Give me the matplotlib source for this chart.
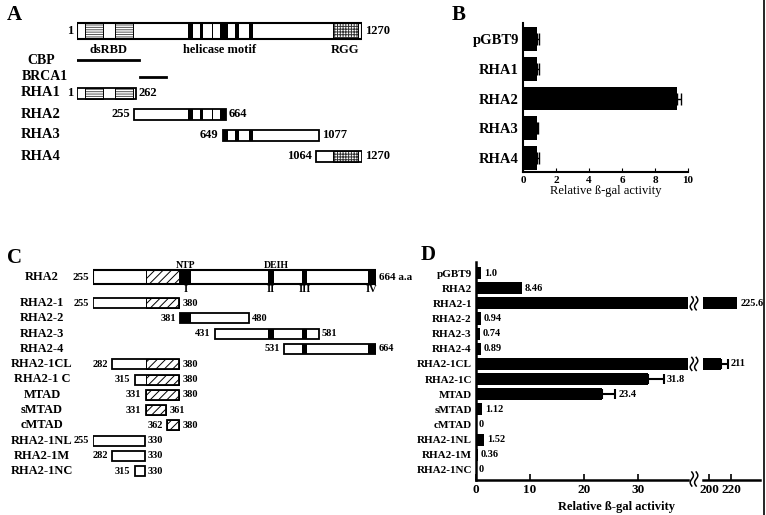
import matplotlib
matplotlib.use('Agg')
import matplotlib.pyplot as plt
from matplotlib.patches import Rectangle
import numpy as np

plt.rcParams['font.family'] = ['Liberation Serif', 'DejaVu Serif']
plt.rcParams['font.weight'] = 'bold'
plt.rcParams['hatch.linewidth'] = 0.7

W, H = 766, 515

# panel A: full length RHA (amino acids)
full_len = 1270
dsrbd = [(36, 117), (170, 250)]
helicase = [(495, 518), (549, 562), (603, 607), (638, 673), (705, 722), (767, 785)]
rgg = [(1141, 1252)]
cbp = (1, 277)
brca1 = (282, 397)
a_names = ['RHA1', 'RHA2', 'RHA3', 'RHA4']
a_start = [1, 255, 649, 1064]
a_end = [262, 664, 1077, 1270]

# panel B
b_names = ['pGBT9', 'RHA1', 'RHA2', 'RHA3', 'RHA4']
b_vals = [0.85, 0.85, 9.35, 0.87, 0.87]
b_err = [0.14, 0.1, 0.25, 0.05, 0.12]

# panel C: RHA2 fragment 255-664
c_range = (255, 664)
mtad = [(331, 380)]
motifs = [(381, 396), (508, 517), (557, 565), (652, 664)]
motif_names = ['I', 'II', 'III', 'IV']
c_names = ['RHA2-1', 'RHA2-2', 'RHA2-3', 'RHA2-4', 'RHA2-1CL', 'RHA2-1 C',
           'MTAD', 'sMTAD', 'cMTAD', 'RHA2-1NL', 'RHA2-1M', 'RHA2-1NC']
c_start = [255, 381, 431, 531, 282, 315, 331, 331, 362, 255, 282, 315]
c_end = [380, 480, 581, 664, 380, 380, 380, 361, 380, 330, 330, 330]

# panel D
d_names = ['pGBT9', 'RHA2', 'RHA2-1', 'RHA2-2', 'RHA2-3', 'RHA2-4', 'RHA2-1CL',
           'RHA2-1C', 'MTAD', 'sMTAD', 'cMTAD', 'RHA2-1NL', 'RHA2-1M', 'RHA2-1NC']
d_vals = [1.0, 8.46, 225.6, 0.94, 0.74, 0.89, 211, 31.8, 23.4, 1.12, 0, 1.52, 0.36, 0]
d_err = [0, 0, 0, 0, 0, 0, 6, 3, 2.4, 0, 0, 0, 0, 0]
d_text = ['1.0', '8.46', '225.6', '0.94', '0.74', '0.89', '211', '31.8', '23.4',
          '1.12', '0', '1.52', '0.36', '0']


fig = plt.figure(figsize=(W / 100, H / 100), dpi=100)


def px_axes(x0, y0, x1, y1):
    return fig.add_axes([x0 / W, 1 - y1 / H, (x1 - x0) / W, (y1 - y0) / H])


cv = px_axes(0, 0, W, H)
cv.set_xlim(0, W)
cv.set_ylim(H, 0)
cv.axis('off')


def feature(ax, s, e, yc, h, doms, style):
    for fs, fe in doms:
        a, b = max(fs, s), min(fe, e)
        if b <= a:
            continue
        if style == 'black':
            ax.add_patch(Rectangle((a, yc - h / 2), b - a, h, fc='black', lw=0, zorder=2))
        else:
            ax.add_patch(Rectangle((a, yc - h / 2), b - a, h, fc='white', ec=style[1],
                                   hatch=style[0], lw=0, zorder=2))
            ax.add_patch(Rectangle((a, yc - h / 2), b - a, h, fc='none', ec='black',
                                   lw=0.7, zorder=3))


def construct(ax, s, e, yc, h, lw, parts, left_lab, right_lab, fs):
    ax.add_patch(Rectangle((s, yc - h / 2), e - s, h, fc='white', ec='none', zorder=1))
    for doms, style in parts:
        feature(ax, s, e, yc, h, doms, style)
    ax.add_patch(Rectangle((s, yc - h / 2), e - s, h, fc='none', ec='black', lw=lw, zorder=4))
    ax.annotate(left_lab, (s, yc), xytext=(-4, 0), textcoords='offset pixels',
                ha='right', va='center', fontsize=fs)
    ax.annotate(right_lab, (e, yc), xytext=(3, 0), textcoords='offset pixels',
                ha='left', va='center', fontsize=fs)


def one_sided_err(ax, vals, errs, capsize, lw):
    for i, (v, e) in enumerate(zip(vals, errs)):
        if e > 0:
            ax.errorbar(v, i, xerr=[[0], [e]], fmt='none', ecolor='black',
                        elinewidth=lw, capsize=capsize, capthick=lw)


# ---------- A ----------
axA = px_axes(77, 0, 362, H)
axA.set_xlim(1, full_len)
axA.set_ylim(H, 0)
axA.axis('off')
partsA = [(dsrbd, ('-------', '#555555')), (helicase, 'black'), (rgg, ('++++++', '#333333'))]
construct(axA, 1, full_len, 31, 16, 1.5, partsA, '1', '1270', 9)
axA.text(np.mean(dsrbd), 50, 'dsRBD', ha='center', va='center', fontsize=9)
axA.text(np.mean(helicase), 50, 'helicase motif', ha='center', va='center', fontsize=9)
axA.text(np.mean(rgg), 50, 'RGG', ha='center', va='center', fontsize=9)
axA.plot(cbp, [60, 60], color='black', lw=2)
axA.plot(brca1, [77, 77], color='black', lw=2)
cv.text(41, 61, 'CBP', ha='center', va='center', fontsize=10)
cv.text(45, 77, 'BRCA1', ha='center', va='center', fontsize=10)
for i, name in enumerate(a_names):
    y = 93 + 21 * i
    construct(axA, a_start[i], a_end[i], y, 11, 1.3, partsA,
              str(a_start[i]), str(a_end[i]), 9)
    cv.text(41, y, name, ha='center', va='center', fontsize=10.5)
cv.text(7, 15, 'A', ha='left', va='center', fontsize=15)

# ---------- B ----------
axB = px_axes(523, 23, 688, 172)
yb = np.arange(len(b_names))
axB.barh(yb, b_vals, height=0.8, color='black')
one_sided_err(axB, b_vals, b_err, 4.3, 1)
axB.set_xlim(0, 10)
axB.set_ylim(4.47, -0.54)
axB.set_yticks(yb)
axB.set_yticklabels(b_names, fontsize=10.5)
axB.set_xticks([0, 2, 4, 6, 8, 10])
axB.tick_params(axis='x', direction='in', length=3, labelsize=8, pad=3)
axB.tick_params(axis='y', length=0, pad=3)
for sp in ['top', 'right']:
    axB.spines[sp].set_visible(False)
for sp in ['left', 'bottom']:
    axB.spines[sp].set_linewidth(1.5)
axB.set_xlabel('Relative ß-gal activity', fontsize=9, va='center')
axB.xaxis.set_label_coords(0.5, -0.128)
cv.text(452, 15, 'B', ha='left', va='center', fontsize=15)

# ---------- C ----------
axC = px_axes(93, 0, 376, H)
axC.set_xlim(*c_range)
axC.set_ylim(H, 0)
axC.axis('off')
partsC = [(mtad, ('////', 'black')), (motifs, 'black')]
construct(axC, c_range[0], c_range[1], 277, 14, 1.5, partsC, '255', '664 a.a', 8)
for (ms, me), mn in zip(motifs, motif_names):
    axC.text((ms + me) / 2, 289, mn, ha='center', va='center', fontsize=7.5)
axC.text(np.mean(motifs[0]), 265, 'NTP', ha='center', va='center', fontsize=7)
axC.annotate('DEIH', (np.mean(motifs[1]), 265), xytext=(5, 0), textcoords='offset pixels',
             ha='center', va='center', fontsize=7)
cv.text(42, 277, 'RHA2', ha='center', va='center', fontsize=9)
for i, name in enumerate(c_names):
    y = 303 + 15.3 * i
    construct(axC, c_start[i], c_end[i], y, 10, 1.3, partsC,
              str(c_start[i]), str(c_end[i]), 7.5)
    cv.text(42, y, name, ha='center', va='center', fontsize=9)
cv.text(7, 258, 'C', ha='left', va='center', fontsize=15)

# ---------- D ----------
yd = np.arange(len(d_names))
axL = px_axes(476, 262, 688, 480)
axR = px_axes(703, 262, 760, 480)
for ax in (axL, axR):
    ax.barh(yd, d_vals, height=0.8, color='black')
    one_sided_err(ax, d_vals, d_err, 3.6, 1.5)
    ax.set_ylim(13.67, -0.73)
    ax.patch.set_alpha(0)
    for sp in ['top', 'right']:
        ax.spines[sp].set_visible(False)
    ax.spines['bottom'].set_linewidth(1.8)
    ax.tick_params(axis='x', direction='in', length=4, width=1.2, labelsize=9.5, pad=3)
axL.set_xlim(0, 39.3)
axR.set_xlim(194.6, 246)
axL.set_xticks([0, 10, 20, 30])
axR.set_xticks([200, 220])
axL.spines['left'].set_linewidth(1.8)
axR.spines['left'].set_visible(False)
axL.set_yticks(yd)
axL.set_yticklabels(d_names, fontsize=8)
axL.tick_params(axis='y', length=0, pad=3)
axR.set_yticks([])
for i, t in enumerate(d_text):
    end = d_vals[i] + d_err[i]
    ax = axL if end < 39.3 else axR
    ax.annotate(t, (end, i), xytext=(3, 0), textcoords='offset pixels',
                ha='left', va='center', fontsize=7.5, annotation_clip=False)
fig.text(616 / W, 1 - 507 / H, 'Relative ß-gal activity', ha='center', va='center',
         fontsize=9)
cv.text(421, 255, 'D', ha='left', va='center', fontsize=15)


# break marks
def squiggle(cx, cy, h, w):
    t = np.linspace(-1, 1, 40)
    for dx in (-2.2, 2.2):
        cv.plot(cx + dx - w * np.sin(np.pi * t), cy + t * h / 2, color='black', lw=1.1)


for i, v in enumerate(d_vals):
    if v > 39.3:
        yc = 262 + (i + 0.73) * (480 - 262) / (13.67 + 0.73)
        squiggle(694, yc, 13, 1.6)
squiggle(694, 479, 14, 1.6)

cv.plot([763.5, 763.5], [0, H], color='black', lw=1.2)

fig.savefig('out.png', dpi=100)
